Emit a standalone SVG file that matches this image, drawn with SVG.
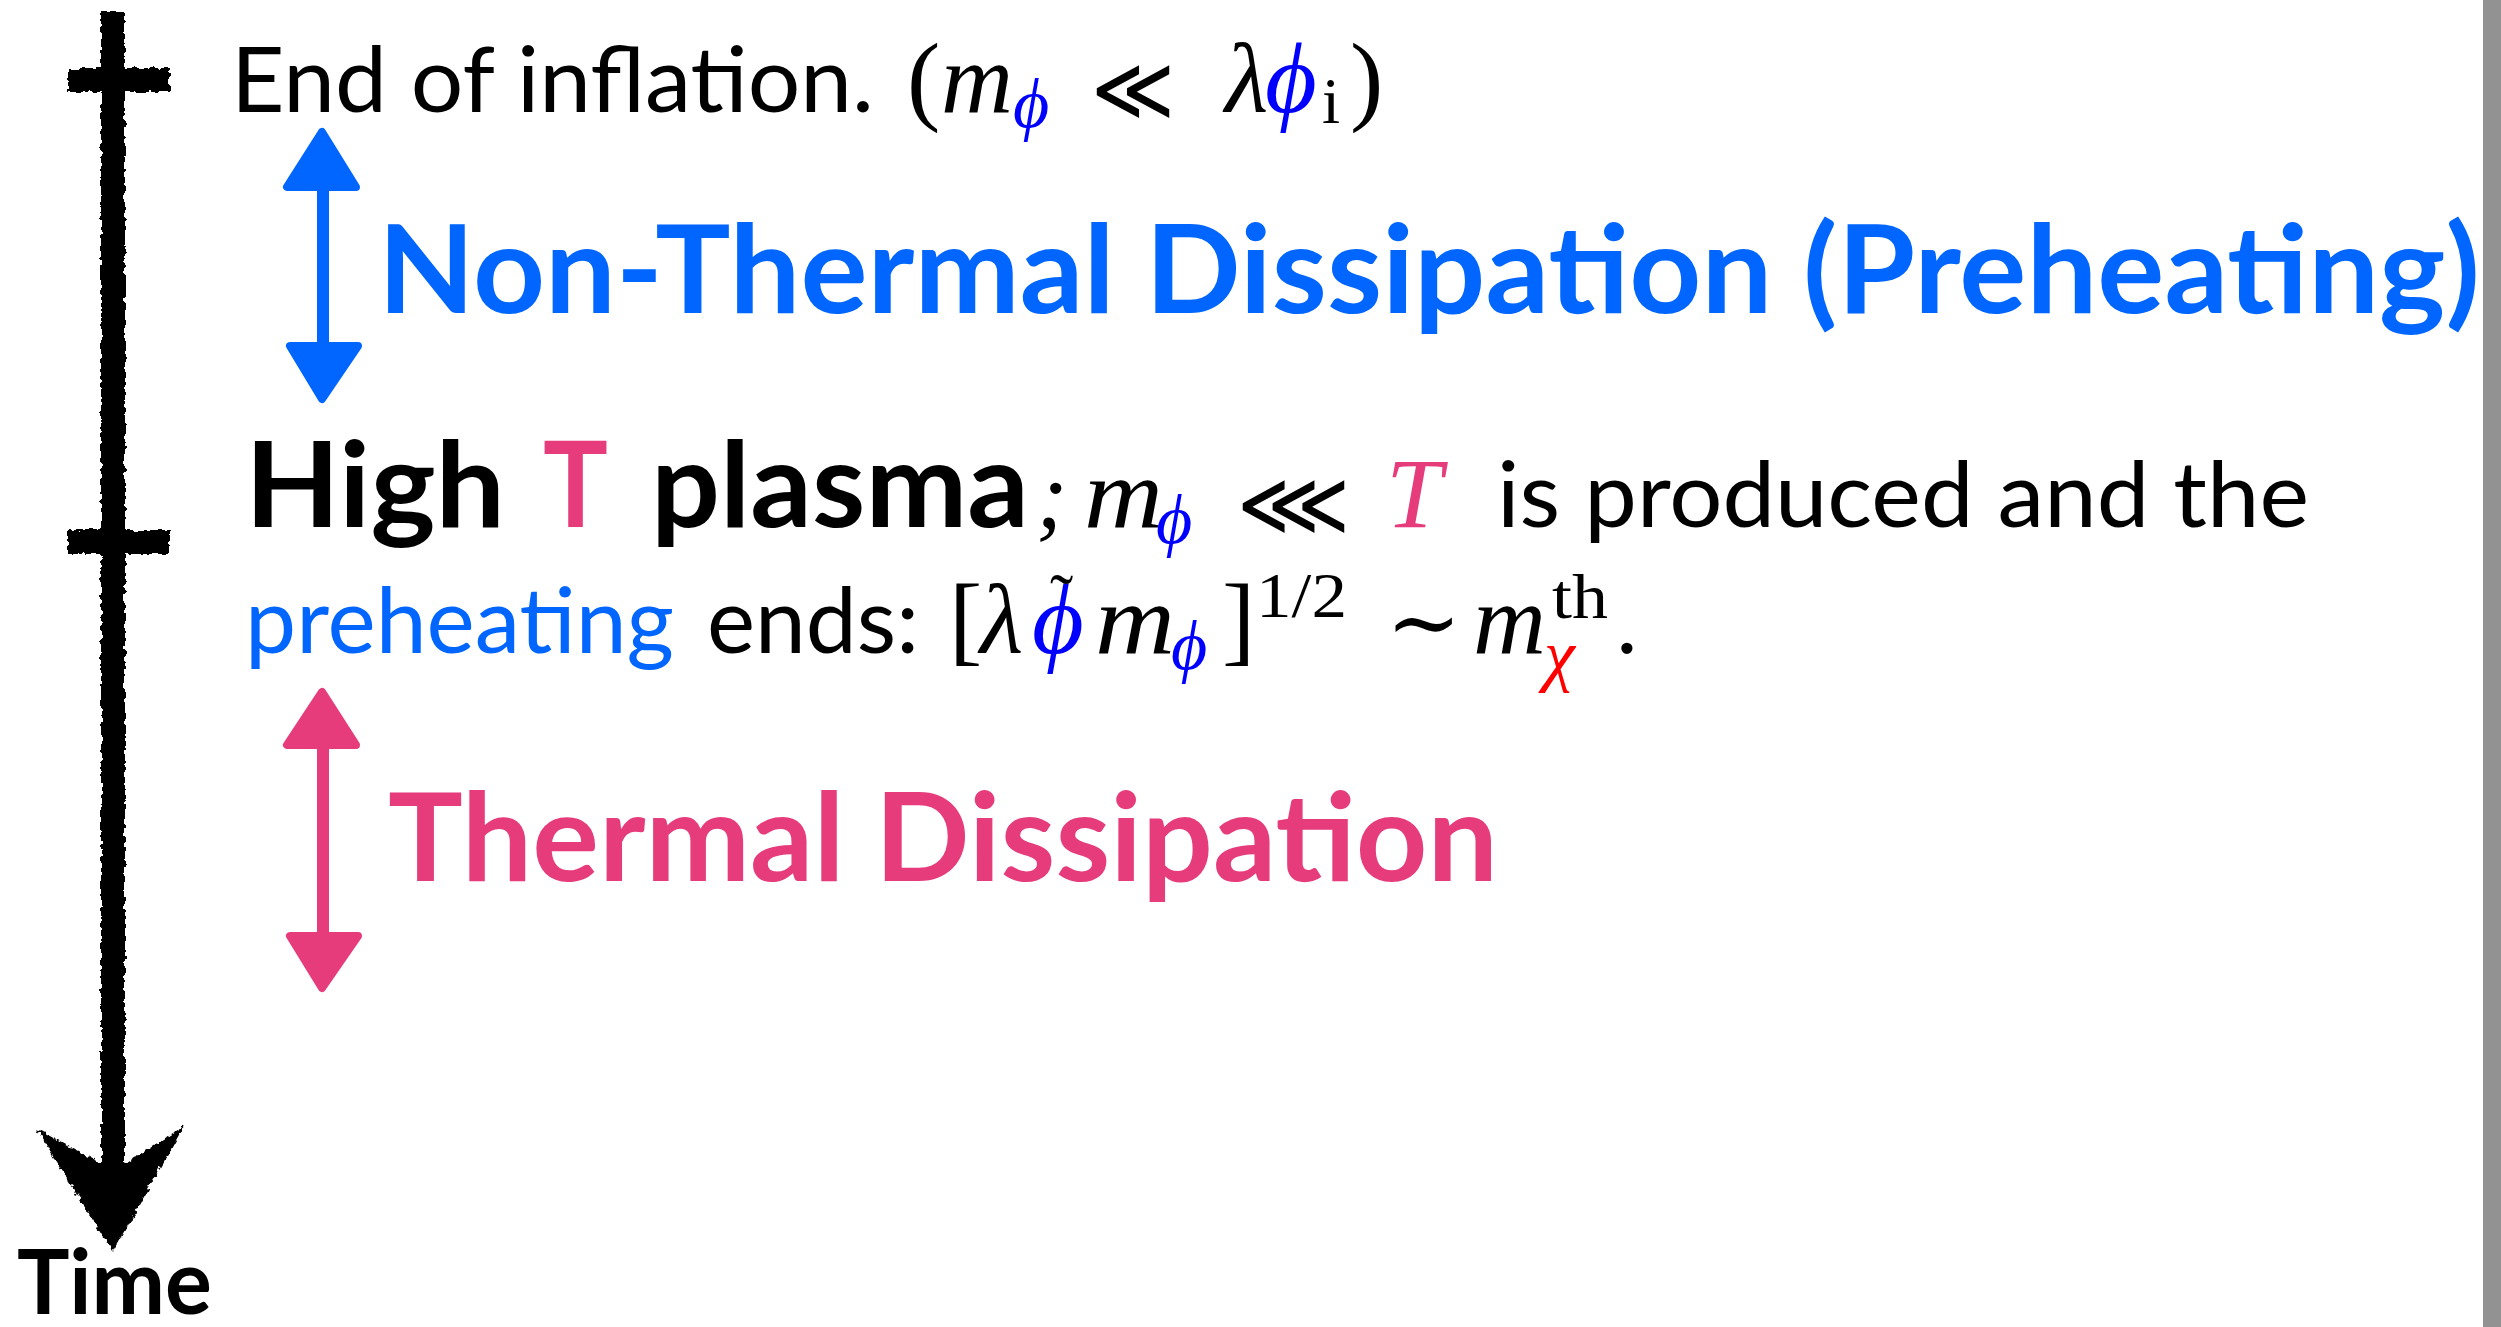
<svg xmlns="http://www.w3.org/2000/svg" width="2501" height="1327" viewBox="0 0 2501 1327">
<style>
.sans{font-family:Lato,"Open Sans","Noto Sans",sans-serif}
.b{font-weight:700}
.reg{font-weight:400;font-size:91px;fill:#000}
.mi{font-family:"Liberation Serif","DejaVu Serif",serif;font-style:italic;fill:#000}
.mr{font-family:"Liberation Serif","DejaVu Serif",serif;fill:#000}
.sym{font-family:"DejaVu Sans",sans-serif;fill:#000}
.mi.phi,.mr.phi{fill:#0000ff}
.mi.red{fill:#ff0000}
.blue,.sans.blue{fill:#0066ff}
.pink,.mi.pink,.sans.pink{fill:#e63c7b}
.ax{stroke:#000;stroke-width:24;fill:none;stroke-linecap:butt}
</style>
<defs>
<filter id="rough" x="-30%" y="-5%" width="160%" height="110%">
<feTurbulence type="fractalNoise" baseFrequency="0.18" numOctaves="2" seed="4" result="n"/>
<feDisplacementMap in="SourceGraphic" in2="n" scale="7" xChannelSelector="R" yChannelSelector="G"/>
</filter>
</defs>
<rect width="2501" height="1327" fill="#ffffff"/>
<rect x="2483" y="0" width="18" height="1327" fill="#929292"/>

<g id="time-axis" filter="url(#rough)">
<line class="ax" x1="113" y1="12" x2="113" y2="1180"/>
<line class="ax" x1="68" y1="80" x2="170" y2="80" stroke-width="20"/>
<line class="ax" x1="68" y1="542" x2="170" y2="542" stroke-width="20"/>
<polygon points="36,1128 100,1163 126,1163 184,1126 113,1252" fill="#000"/>
</g>
<g id="time-label">
<text class="sans b" x="17" y="1314" font-size="90" textLength="195" lengthAdjust="spacingAndGlyphs">Time</text>
</g>

<g id="event-end">
<text class="sans reg" x="231" y="112" textLength="643" lengthAdjust="spacingAndGlyphs">End of inflation.</text>
<text class="mr" x="907" y="112" font-size="100">(</text>
<text class="mi" x="941" y="112" font-size="100" textLength="72" lengthAdjust="spacingAndGlyphs">m</text>
<text class="mi phi" x="1013" y="127" font-size="70">ϕ</text>
<text class="sym" x="1091" y="120" font-size="90" textLength="84" lengthAdjust="spacingAndGlyphs">≪</text>
<text class="mi" x="1225" y="112" font-size="100">λ</text>
<text class="mi phi" x="1265" y="112" font-size="100">ϕ</text>
<text class="mr" x="1322" y="123" font-size="65">i</text>
<text class="mr" x="1350" y="112" font-size="100">)</text>
</g>

<g id="label-preheating">
<text class="sans b blue" x="378" y="313" font-size="123" textLength="2102" lengthAdjust="spacingAndGlyphs">Non-Thermal Dissipation (Preheating)</text>
</g>

<g id="event-plasma">
<text class="sans b" x="245" y="527" font-size="118" textLength="260" lengthAdjust="spacingAndGlyphs">High</text>
<text class="sans b pink" x="543" y="527" font-size="118" textLength="65" lengthAdjust="spacingAndGlyphs">T</text>
<text class="sans b" x="651" y="527" font-size="118" textLength="378" lengthAdjust="spacingAndGlyphs">plasma</text>
<text class="mi" x="1036" y="527" font-size="95">;</text>
<text class="mi" x="1084" y="527" font-size="100" textLength="79" lengthAdjust="spacingAndGlyphs">m</text>
<text class="mi phi" x="1156" y="543" font-size="70">ϕ</text>
<text class="sym" x="1237" y="535" font-size="90" textLength="113" lengthAdjust="spacingAndGlyphs">⋘</text>
<text class="mi pink" x="1386" y="527" font-size="100" textLength="56" lengthAdjust="spacingAndGlyphs">T</text>
<text class="sans reg" x="1497" y="527" textLength="812" lengthAdjust="spacingAndGlyphs">is produced and the</text>
<text class="sans reg blue" x="245" y="653" textLength="429" lengthAdjust="spacingAndGlyphs">preheating</text>
<text class="sans reg" x="707" y="653" textLength="212" lengthAdjust="spacingAndGlyphs">ends:</text>
<text class="mr" x="949" y="653" font-size="100">[</text>
<text class="mi" x="980" y="653" font-size="100">λ</text>
<text class="mi phi" x="1032" y="653" font-size="100">ϕ</text>
<text class="mr" x="1050" y="622" font-size="70">˜</text>
<text class="mi" x="1095" y="653" font-size="100" textLength="80" lengthAdjust="spacingAndGlyphs">m</text>
<text class="mi phi" x="1171" y="669" font-size="70">ϕ</text>
<text class="mr" x="1222" y="653" font-size="100">]</text>
<text class="mr" x="1256" y="617" font-size="64" textLength="91" lengthAdjust="spacingAndGlyphs">1/2</text>
<text class="mr" x="1386" y="653" font-size="90">∼</text>
<text class="mi" x="1473" y="653" font-size="100" textLength="73" lengthAdjust="spacingAndGlyphs">m</text>
<text class="mr" x="1552" y="618" font-size="64" textLength="56" lengthAdjust="spacingAndGlyphs">th</text>
<text class="mi red" x="1544" y="678" font-size="70">χ</text>
<text class="mr" x="1615" y="653" font-size="95">.</text>
</g>

<g id="label-thermal">
<text class="sans b pink" x="388" y="881" font-size="123" textLength="1110" lengthAdjust="spacingAndGlyphs">Thermal Dissipation</text>
</g>

<g id="connectors">
<g fill="#0066ff" stroke="#0066ff" stroke-linejoin="round" stroke-width="8">
<line x1="323" y1="185" x2="323" y2="348" stroke-width="12"/>
<polygon points="322,132 287,187 356,187"/>
<polygon points="290,346 358,346 322,399"/>
</g>
<g fill="#e63c7b" stroke="#e63c7b" stroke-linejoin="round" stroke-width="8">
<line x1="323" y1="742" x2="323" y2="938" stroke-width="12"/>
<polygon points="322,692 287,745 356,745"/>
<polygon points="290,936 358,936 322,988"/>
</g>
</g>
</svg>
